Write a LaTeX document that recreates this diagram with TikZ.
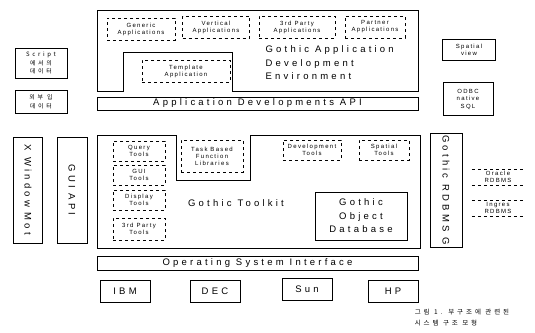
\documentclass[tikz,border=0pt]{standalone}
\usepackage{fontspec}
\setmainfont{Liberation Sans}
\newfontfamily\wide[LetterSpace=34]{Liberation Sans}
\newfontfamily\narrow[LetterSpace=22]{Liberation Sans}
\newfontfamily\kor[LetterSpace=45]{Noto Sans CJK KR}
\begin{document}
\begin{tikzpicture}[x=1pt, y=-1pt, line join=miter,
    outline/.style={draw, line width=0.9pt},
    box/.style={draw, line width=0.9pt, align=center, inner sep=0pt},
    dbox/.style={draw, dashed, line width=0.5pt, align=center, inner sep=0pt,
                 font=\narrow\fontsize{6}{7}\selectfont},
    big/.style={font=\wide\fontsize{9.5}{13.5}\selectfont},
    small/.style={font=\narrow\fontsize{6}{7.5}\selectfont}]
  \useasboundingbox (0,0) rectangle (535,332);
  % application development environment
  \draw[outline] (97,10) -- (418,10) -- (418,91) -- (232,91) -- (232,52)
                 -- (123,52) -- (123,91) -- (97,91) -- cycle;
  \node[dbox, minimum width=68, minimum height=22] (generic) at (141,29) {Generic\\Applications};
  \node[dbox, minimum width=67, minimum height=22] (vert) at (216,27) {Vertical\\Applications};
  \node[dbox, minimum width=76, minimum height=22] (thirdapp) at (297,27) {3rd Party\\Applications};
  \node[dbox, minimum width=60, minimum height=22] (partner) at (375,27) {Partner\\Applications};
  \node[dbox, minimum width=88, minimum height=22] (template) at (186,71) {Template\\Application};
  \node[big, anchor=west, align=left] (gade) at (262,63) {Gothic Application\\Development\\Environment};
  \node[box, big, minimum width=321, minimum height=13] (api) at (257.5,103.5) {Application Developments API};
  % side boxes
  \node[box, font=\kor\fontsize{6}{8.5}\selectfont, minimum width=52, minimum height=30] (script) at (41,63) {Script\\에서의\\데이터};
  \node[box, font=\kor\fontsize{6}{8.5}\selectfont, minimum width=52, minimum height=23] (extern) at (41,102) {외부 입\\데이터};
  \node[box, small, minimum width=53, minimum height=21] (spview) at (469,50) {Spatial\\view};
  \node[box, small, minimum width=50, minimum height=33] (native) at (468,99) {ODBC\\native\\SQL};
  \node[box, big, rotate=-90, minimum width=106, minimum height=29] (xwin) at (28,190) {X Window Mot};
  \node[box, big, rotate=-90, minimum width=106, minimum height=30] (guiapi) at (72,190) {GUI API};
  \node[box, big, rotate=-90, minimum width=114, minimum height=32] (rdbms) at (446,190) {Gothic RDBMS G};
  % toolkit
  \draw[outline] (97,135) -- (176,135) -- (176,180) -- (250,180) -- (250,135)
                 -- (420,135) -- (420,248) -- (97,248) -- cycle;
  \node[dbox, minimum width=52, minimum height=20] (query) at (139,151) {Query\\Tools};
  \node[dbox, minimum width=52, minimum height=20] (gui) at (139,175) {GUI\\Tools};
  \node[dbox, minimum width=52, minimum height=20] (display) at (139,200) {Display\\Tools};
  \node[dbox, minimum width=52, minimum height=22] (thirdtool) at (139,229) {3rd Party\\Tools};
  \node[dbox, minimum width=62, minimum height=32] (taskfn) at (212,156) {Task Based\\Function\\Libraries};
  \node[dbox, minimum width=58, minimum height=20] (devtool) at (312,150) {Development\\Tools};
  \node[dbox, minimum width=50, minimum height=20] (sptool) at (384,150) {Spatial\\Tools};
  \node[big] (toolkit) at (236,203) {Gothic Toolkit};
  \node[box, big, minimum width=92, minimum height=48] (objdb) at (361,216) {Gothic\\Object\\Database};
  % external databases
  \node[small, align=center, inner sep=2pt, minimum width=52] (oracle) at (498,177) {Oracle\\RDBMS};
  \node[small, align=center, inner sep=2pt, minimum width=52] (ingres) at (498,208) {Ingres\\RDBMS};
  \foreach \n in {oracle,ingres}
    \draw[dashed, line width=0.5pt] (\n.north west) -- (\n.north east)
                                    (\n.south west) -- (\n.south east);
  % platforms
  \node[box, big, minimum width=321, minimum height=14] (osif) at (257.5,263) {Operating System Interface};
  \node[box, big, minimum width=50, minimum height=22] (ibm) at (125,291) {IBM};
  \node[box, big, minimum width=50, minimum height=22] (dec) at (215,291) {DEC};
  \node[box, big, minimum width=50, minimum height=22] (sun) at (307,289) {Sun};
  \node[box, big, minimum width=50, minimum height=22] (hp) at (393,291) {HP};
  \node[align=left, font=\kor\fontsize{6.5}{11}\selectfont] (caption) at (462,318) {그림 1. 부구조에 관련된\\시스템 구조 모형};
\end{tikzpicture}
\end{document}
